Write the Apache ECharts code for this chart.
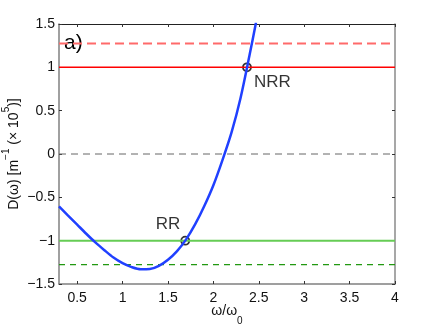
<!DOCTYPE html>
<html>
<head>
<meta charset="utf-8">
<script src="https://cdn.jsdelivr.net/npm/echarts@6/dist/echarts.min.js"></script>
<style>
html,body{margin:0;padding:0;background:#fff;}
#chart{width:436px;height:328px;}
</style>
</head>
<body>
<div id="chart"></div>
<script>
// 数据
var xTicks = [0.5, 1, 1.5, 2, 2.5, 3, 3.5, 4];
var curveX = [0.3, 0.4, 0.5, 0.6, 0.7, 0.8, 0.9, 1.0, 1.1, 1.2, 1.3, 1.4, 1.5, 1.6, 1.7, 1.8, 1.9, 2.0, 2.1, 2.2, 2.3, 2.4, 2.47];
var curveY = [-0.604, -0.71, -0.815, -0.92, -1.02, -1.11, -1.195, -1.26, -1.305, -1.33, -1.327, -1.29, -1.22, -1.12, -0.985, -0.81, -0.6, -0.36, -0.07, 0.25, 0.65, 1.15, 1.52];
var levelNames = ['redSolid', 'redDash', 'zero', 'greenSolid', 'greenDash'];
var levelValues = [1, 1.276, 0, -1, -1.277];
var pointX = [1.69, 2.37];
var pointY = [-1, 1];
var pointNames = ['RR', 'NRR'];
var xRange = [0.3, 4];

var font = 'Liberation Sans, Arial, Helvetica, sans-serif';

function fmt(v){
    var s = String(v);
    return v < 0 ? '\u2212' + s.slice(1) : s;
}

var levelStyle = {
    redSolid:   {color:'#ff0000', width:1.5, type:'solid'},
    redDash:    {color:'#ff6a6a', width:2, type:[9,5]},
    zero:       {color:'#666666', width:1, type:[7,5]},
    greenSolid: {color:'#66cc55', width:2, type:'solid'},
    greenDash:  {color:'#229911', width:1.2, type:[6,5]}
};

var series = [];
for (var i = 0; i < levelNames.length; i++) {
    series.push({
        name: levelNames[i],
        type: 'line',
        symbol: 'none',
        silent: true,
        lineStyle: levelStyle[levelNames[i]],
        data: [[xRange[0], levelValues[i]], [xRange[1], levelValues[i]]]
    });
}

var curve = [];
for (var i = 0; i < curveX.length; i++) curve.push([curveX[i], curveY[i]]);
series.push({
    name: 'D',
    type: 'line',
    smooth: 0.3,
    symbol: 'none',
    clip: true,
    lineStyle: {color:'#2040ff', width:2.5},
    data: curve
});

var pts = [];
var labelPos = [
    {position:'left', offset:[5,-16]},
    {position:'right', offset:[-3,15]}
];
for (var i = 0; i < pointX.length; i++) {
    pts.push({
        value: [pointX[i], pointY[i]],
        name: pointNames[i],
        label: {show:true, formatter:'{b}', position:labelPos[i].position, offset:labelPos[i].offset,
            color:'#000', fontSize:17, fontFamily:font}
    });
}
series.push({
    name: 'pts',
    type: 'scatter',
    symbol: 'circle',
    symbolSize: 8,
    itemStyle: {color:'rgba(0,0,0,0)', borderColor:'#000', borderWidth:1.8},
    data: pts
});

var myChart = echarts.init(document.getElementById('chart'));
var option = {
    animation: false,
    grid: {left:59, top:24, right:41, bottom:44, containLabel:false, outerBoundsMode:'none'},
    graphic: [{
        type:'text', left:64, top:33,
        style:{text:'a)', font:'21px ' + font, fill:'#000'}
    }],
    xAxis: [{
        type:'value', min:xRange[0], max:xRange[1], position:'bottom',
        name:'{n|\u03c9/\u03c9}{s|0}', nameLocation:'middle', nameGap:20, nameMoveOverlap:false,
        nameTextStyle:{rich:{n:{fontSize:14, fontFamily:font, color:'#111'},
            s:{fontSize:10, fontFamily:font, color:'#111', verticalAlign:'bottom', padding:[0,0,-8,0]}}},
        axisLine:{onZero:false, lineStyle:{color:'#808080', width:1.5}},
        axisTick:{inside:true, length:3, customValues:xTicks, lineStyle:{color:'#333'}},
        axisLabel:{customValues:xTicks, formatter:fmt, fontSize:14, fontFamily:font, color:'#111', margin:7},
        splitLine:{show:false}
    }, {
        type:'value', min:xRange[0], max:xRange[1], position:'top',
        axisLine:{show:true, onZero:false, lineStyle:{color:'#222', width:1}},
        axisTick:{inside:true, length:3, customValues:xTicks, lineStyle:{color:'#333'}},
        axisLabel:{show:false}, splitLine:{show:false}
    }],
    yAxis: [{
        type:'value', min:-1.5, max:1.5, interval:0.5, position:'left',
        name:'{n|D(\u03c9) [m}{s|\u22121}{n| (\u00d7 10}{s|5}{n|)]}',
        nameLocation:'middle', nameGap:38, nameMoveOverlap:false,
        nameTextStyle:{rich:{n:{fontSize:14, fontFamily:font, color:'#111'},
            s:{fontSize:10, fontFamily:font, color:'#111', verticalAlign:'top', padding:[-6,0,0,0]}}},
        axisLine:{show:true, onZero:false, lineStyle:{color:'#808080', width:1.5}},
        axisTick:{inside:true, length:3, lineStyle:{color:'#333'}},
        axisLabel:{formatter:fmt, fontSize:14, fontFamily:font, color:'#111', margin:4},
        splitLine:{show:false}
    }, {
        type:'value', min:-1.5, max:1.5, interval:0.5, position:'right',
        axisLine:{show:true, onZero:false, lineStyle:{color:'#8a8a8a', width:1.5}},
        axisTick:{inside:true, length:3, lineStyle:{color:'#333'}},
        axisLabel:{show:false}, splitLine:{show:false}
    }],
    series: series
};
myChart.setOption(option, true);
</script>
</body>
</html>
